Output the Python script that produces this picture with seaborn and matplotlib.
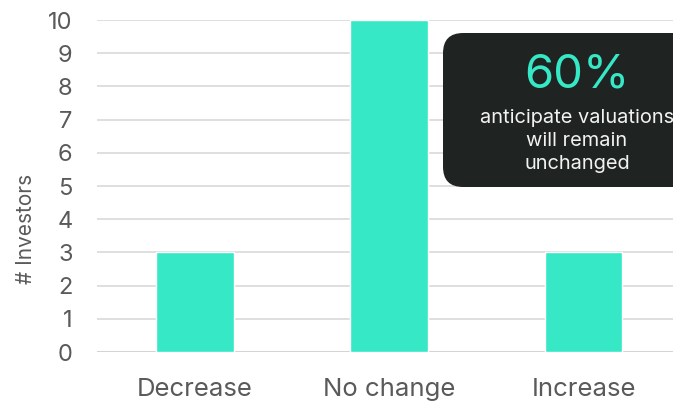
import pandas as pd
import matplotlib.pyplot as plt
import seaborn as sns
from matplotlib.patches import FancyBboxPatch

# Data
categories = ['Decrease', 'No change', 'Increase']
investors = [3, 10, 3]
y_ticks = list(range(0, 11))

bar_color = '#36e8c6'
box_color = '#1f2422'
text_gray = '#5a5a5a'

sns.set_style('white')
plt.rcParams['font.family'] = ['Inter', 'DejaVu Sans']

df = pd.DataFrame({'outcome': categories, 'investors': investors})

fig = plt.figure(figsize=(6.73, 4.01), dpi=100)
ax = fig.add_axes([0.144, 0.122, 0.856, 0.828])

sns.barplot(data=df, x='outcome', y='investors', color=bar_color,
            width=0.4, saturation=1, ax=ax, zorder=3)

ax.set_ylim(0, 10)
ax.set_xlim(-0.505, 2.46)
ax.set_yticks(y_ticks)
ax.grid(axis='y', color='#d9d9d9', linewidth=1.2, zorder=0)
ax.set_axisbelow(True)
sns.despine(ax=ax, left=True, bottom=True, top=True, right=True)
ax.axhline(0, color='#d4d4d4', linewidth=1.5, zorder=1)

ax.tick_params(axis='y', length=0, pad=17.5, labelsize=17, labelcolor=text_gray)
ax.tick_params(axis='x', length=0, pad=19, labelsize=18.5, labelcolor=text_gray)
ax.set_xlabel('')
ax.set_ylabel('# Investors', fontsize=15, color=text_gray)
ax.yaxis.set_label_coords(-0.106, 0.37)

# Callout box
box = FancyBboxPatch((443 / 673, 1 - 187 / 401), 0.4, (187 - 33) / 401,
                     boxstyle='round,pad=0,rounding_size=0.03',
                     transform=fig.transFigure, facecolor=box_color,
                     edgecolor='none', zorder=5, mutation_aspect=673 / 401)
fig.patches.append(box)
fig.text(577 / 673, 1 - 75 / 401, '60%', color=bar_color, fontsize=34,
         ha='center', va='center', zorder=6)
fig.text(577 / 673, 1 - 141 / 401,
         'anticipate valuations\nwill remain\nunchanged',
         color='#f2f2f2', fontsize=14.4, ha='center', va='center',
         linespacing=1.38, zorder=6)

fig.savefig('out.png', dpi=100)
